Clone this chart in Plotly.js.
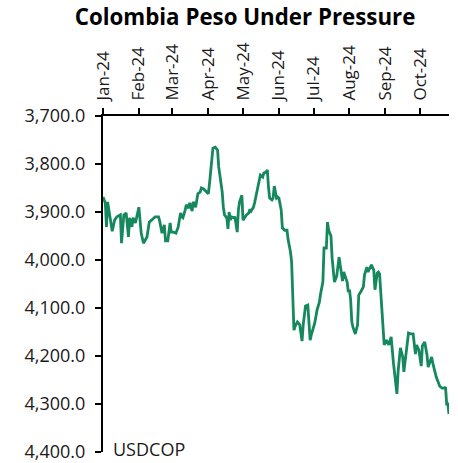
<!DOCTYPE html>
<html>
<head>
<meta charset="utf-8">
<script src="https://cdn.plot.ly/plotly-3.0.1.min.js"></script>
<style>html,body{margin:0;padding:0;background:#fff;}#chart{width:458px;height:463px;}</style>
</head>
<body>
<div id="chart"></div>
<script>
var dates = [
'2024-01-01','2024-01-03','2024-01-04','2024-01-05','2024-01-07','2024-01-09','2024-01-11','2024-01-13','2024-01-16','2024-01-17',
'2024-01-19','2024-01-21','2024-01-23','2024-01-24','2024-01-26','2024-01-27','2024-01-29','2024-01-30','2024-02-01','2024-02-03',
'2024-02-05','2024-02-08','2024-02-10','2024-02-12','2024-02-15','2024-02-18','2024-02-19','2024-02-21','2024-02-23','2024-02-24',
'2024-02-26','2024-02-28','2024-02-29','2024-03-02','2024-03-04','2024-03-06','2024-03-08','2024-03-09','2024-03-10','2024-03-12',
'2024-03-13','2024-03-15','2024-03-16','2024-03-18','2024-03-19','2024-03-21','2024-03-22','2024-03-23','2024-03-25','2024-03-26',
'2024-03-28','2024-03-30','2024-04-01','2024-04-02','2024-04-04','2024-04-05','2024-04-07','2024-04-09','2024-04-10','2024-04-13',
'2024-04-14','2024-04-15','2024-04-17','2024-04-18','2024-04-19','2024-04-20','2024-04-21','2024-04-23','2024-04-24','2024-04-26',
'2024-04-27','2024-04-28','2024-04-30','2024-05-01','2024-05-03','2024-05-04','2024-05-06','2024-05-07','2024-05-08','2024-05-10',
'2024-05-11','2024-05-13','2024-05-15','2024-05-16','2024-05-18','2024-05-19','2024-05-21','2024-05-22','2024-05-23','2024-05-24',
'2024-05-26','2024-05-27','2024-05-28','2024-05-30','2024-05-31','2024-06-01','2024-06-03','2024-06-04','2024-06-06','2024-06-08',
'2024-06-09','2024-06-11','2024-06-12','2024-06-13','2024-06-14','2024-06-15','2024-06-17','2024-06-19','2024-06-21','2024-06-22',
'2024-06-24','2024-06-26','2024-06-27','2024-06-28','2024-06-29','2024-07-01','2024-07-02','2024-07-04','2024-07-06','2024-07-07',
'2024-07-09','2024-07-10','2024-07-12','2024-07-13','2024-07-14','2024-07-16','2024-07-17','2024-07-19','2024-07-21','2024-07-23',
'2024-07-24','2024-07-26','2024-07-27','2024-07-30','2024-07-31','2024-08-01','2024-08-02','2024-08-03','2024-08-04','2024-08-06',
'2024-08-08','2024-08-09','2024-08-11','2024-08-13','2024-08-14','2024-08-16','2024-08-17','2024-08-19','2024-08-20','2024-08-22',
'2024-08-23','2024-08-25','2024-08-26','2024-08-27','2024-08-29','2024-08-31','2024-09-02','2024-09-04','2024-09-06','2024-09-08',
'2024-09-11','2024-09-12','2024-09-14','2024-09-16','2024-09-17','2024-09-20','2024-09-21','2024-09-23','2024-09-25','2024-09-27',
'2024-09-28','2024-09-30','2024-10-02','2024-10-03','2024-10-05','2024-10-07','2024-10-08','2024-10-11','2024-10-12','2024-10-15',
'2024-10-17','2024-10-18','2024-10-20','2024-10-22','2024-10-23','2024-10-24','2024-10-25','2024-10-26'
];
var usdcop = [
3869,3881,3931,3879,3910,3940,3917,3910,3906,3965,
3906,3902,3952,3912,3931,3912,3923,3912,3890,3944,
3965,3952,3921,3917,3910,3910,3919,3944,3927,3960,
3960,3923,3942,3942,3944,3931,3902,3910,3912,3896,
3885,3892,3881,3898,3879,3890,3875,3862,3858,3850,
3852,3858,3862,3842,3796,3767,3765,3771,3806,3858,
3890,3906,3912,3935,3900,3917,3910,3912,3910,3942,
3896,3879,3865,3917,3910,3906,3902,3894,3898,3890,
3881,3858,3833,3823,3827,3819,3817,3812,3848,3871,
3875,3871,3846,3871,3869,3871,3896,3933,3938,3938,
3958,3983,4004,4073,4146,4138,4129,4135,4169,4135,
4096,4094,4131,4167,4156,4142,4131,4104,4088,4071,
4046,3975,3975,3921,3938,3950,3996,4046,4033,3994,
4010,4044,4025,4046,4067,4062,4083,4129,4140,4154,
4135,4073,4065,4056,4031,4015,4025,4017,4010,4021,
4062,4027,4025,4029,4117,4177,4167,4177,4160,4215,
4279,4233,4183,4202,4233,4165,4152,4154,4154,4196,
4177,4188,4221,4179,4171,4198,4223,4202,4215,4244,
4260,4263,4267,4267,4265,4300,4300,4321
];
var monthTicks = ['2024-01-01','2024-02-01','2024-03-01','2024-04-01','2024-05-01','2024-06-01','2024-07-01','2024-08-01','2024-09-01','2024-10-01'];
var monthLabels = ['Jan-24','Feb-24','Mar-24','Apr-24','May-24','Jun-24','Jul-24','Aug-24','Sep-24','Oct-24'];
var yTicks = [3700,3800,3900,4000,4100,4200,4300,4400];

var FONT = 'Open Sans, Noto Sans, sans-serif';
var trace = {
  x: dates, y: usdcop, type: 'scatter', mode: 'lines', name: 'USDCOP',
  line: {color: '#15885D', width: 2.8}, hoverinfo: 'x+y'
};
var layout = {
  width: 458, height: 463,
  margin: {l: 103, r: 9, t: 116, b: 11},
  paper_bgcolor: '#fff', plot_bgcolor: '#fff',
  showlegend: false,
  font: {family: FONT, color: '#1a1a1a', size: 17},
  title: {text: '<b>Colombia Peso Under Pressure</b>', x: 0.535, xanchor: 'center', y: 0.962, yanchor: 'middle',
          font: {family: FONT, size: 22.3, color: '#000'}},
  xaxis: {
    type: 'date', side: 'top', range: ['2024-01-01','2024-10-26'],
    tickvals: monthTicks, ticktext: monthLabels, tickangle: -90,
    ticks: 'outside', ticklen: 6, tickwidth: 2, tickcolor: '#000',
    showline: true, linecolor: '#000', linewidth: 2, showgrid: false, zeroline: false,
    tickfont: {family: FONT, size: 17, color: '#1a1a1a'}, ticklabelstandoff: 4
  },
  yaxis: {
    range: [4400, 3700], tickvals: yTicks, tickformat: ',.1f',
    ticks: 'outside', ticklen: 6, tickwidth: 2, tickcolor: '#000',
    showline: true, linecolor: '#000', linewidth: 2, showgrid: false, zeroline: false,
    tickfont: {family: FONT, size: 18, color: '#1a1a1a'}, ticklabelstandoff: 6,
    ticklabeloverflow: 'allow'
  },
  annotations: [{
    text: 'USDCOP', xref: 'paper', yref: 'paper', x: 0, y: 0, xanchor: 'left', yanchor: 'middle',
    xshift: 8, yshift: 3, showarrow: false, font: {family: FONT, size: 18, color: '#1a1a1a'}
  }]
};
Plotly.newPlot('chart', [trace], layout, {staticPlot: true, displayModeBar: false});
</script>
</body>
</html>
